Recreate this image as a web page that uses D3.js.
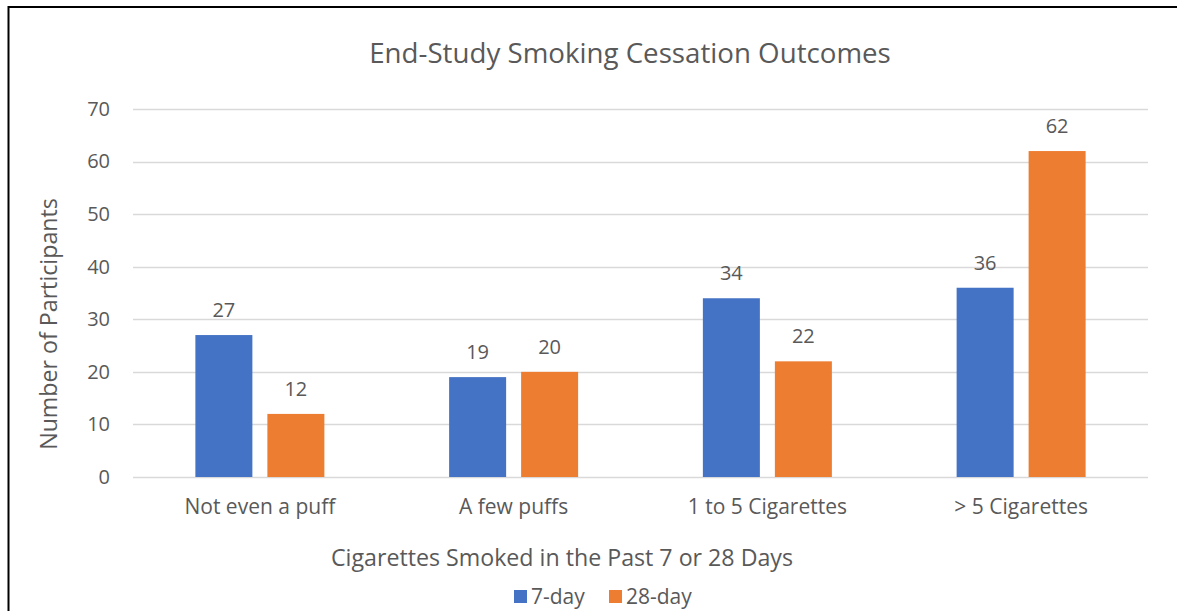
<!DOCTYPE html>
<html>
<head>
<meta charset="utf-8">
<script src="https://cdn.jsdelivr.net/npm/d3@7"></script>
<style>
  html, body { margin: 0; padding: 0; background: #fff; }
  svg { display: block; }
  text { font-family: "Open Sans", "Noto Sans", sans-serif; fill: #595959; }
</style>
</head>
<body>
<svg id="chart" width="1177" height="611"></svg>
<script>
// Chart data
const categories = ["Not even a puff", "A few puffs", "1 to 5 Cigarettes", "> 5 Cigarettes"];
const seriesNames = ["7-day", "28-day"];
const sevenDay = [27, 19, 34, 36];
const twentyEightDay = [12, 20, 22, 62];
const yTicks = [0, 10, 20, 30, 40, 50, 60, 70];
const colors = ["#4472C4", "#ED7D31"];

const seriesValues = [sevenDay, twentyEightDay];
const FONT = "'Open Sans', 'Noto Sans', sans-serif";

const svg = d3.select("#chart");
const W = 1177, H = 611;

// Outer frame of the figure
svg.append("path")
  .attr("d", `M8.5,${H} L8.5,7 L${W},7`)
  .attr("fill", "none")
  .attr("stroke", "#000")
  .attr("stroke-width", 2);

const plot = { left: 133, right: 1148, top: 109, bottom: 477 };

const y = d3.scaleLinear().domain([0, 70]).range([plot.bottom, plot.top]);
const x0 = d3.scaleBand().domain(categories).range([plot.left, plot.right]).padding(0);
const groupWidth = 129;
const x1 = d3.scaleBand().domain(seriesNames).range([0, groupWidth]).paddingInner(15 / 72);

// Gridlines
svg.append("g")
  .selectAll("line")
  .data(yTicks)
  .join("line")
  .attr("x1", plot.left).attr("x2", plot.right)
  .attr("y1", d => Math.round(y(d)) + 0.5).attr("y2", d => Math.round(y(d)) + 0.5)
  .attr("stroke", "#D9D9D9")
  .attr("stroke-width", 1.3);

// Y axis tick labels
const yAxis = d3.axisLeft(y).tickValues(yTicks).tickSize(0).tickPadding(0);
const yG = svg.append("g").attr("transform", `translate(110,0)`).call(yAxis);
yG.select(".domain").remove();
yG.selectAll("text")
  .attr("font-size", 20)
  .attr("fill", "#595959")
  .style("font-family", FONT);

// Bars
const groups = svg.append("g")
  .selectAll("g")
  .data(categories)
  .join("g")
  .attr("transform", c => `translate(${x0(c) + (x0.bandwidth() - groupWidth) / 2},0)`);

groups.selectAll("rect")
  .data((c, i) => seriesNames.map((s, j) => ({ s, v: seriesValues[j][i], j })))
  .join("rect")
  .attr("x", d => x1(d.s))
  .attr("width", x1.bandwidth())
  .attr("y", d => y(d.v))
  .attr("height", d => y(0) - y(d.v))
  .attr("fill", d => colors[d.j]);

// Value labels
groups.selectAll("text.val")
  .data((c, i) => seriesNames.map((s, j) => ({ s, v: seriesValues[j][i], j })))
  .join("text")
  .attr("class", "val")
  .attr("x", d => x1(d.s) + x1.bandwidth() / 2)
  .attr("y", d => y(d.v) - 18)
  .attr("text-anchor", "middle")
  .attr("font-size", 20)
  .attr("fill", "#404040")
  .text(d => d.v);

// Category labels
const xAxis = d3.axisBottom(x0).tickSize(0).tickPadding(0);
const xG = svg.append("g").attr("transform", `translate(0,${plot.bottom + 37})`).call(xAxis);
xG.select(".domain").remove();
xG.selectAll("text")
  .attr("font-size", 21)
  .attr("dy", 0)
  .attr("fill", "#595959")
  .style("font-family", FONT);

// Chart title
svg.append("text")
  .attr("x", 630).attr("y", 63)
  .attr("text-anchor", "middle")
  .attr("font-size", 27.7)
  .text("End-Study Smoking Cessation Outcomes");

// Axis titles
svg.append("text")
  .attr("transform", `translate(57,324) rotate(-90)`)
  .attr("text-anchor", "middle")
  .attr("font-size", 23.2)
  .text("Number of Participants");

svg.append("text")
  .attr("x", 562).attr("y", 566)
  .attr("text-anchor", "middle")
  .attr("font-size", 23.2)
  .text("Cigarettes Smoked in the Past 7 or 28 Days");

// Legend
const legendX = [514, 609];
const legend = svg.append("g")
  .selectAll("g")
  .data(seriesNames)
  .join("g")
  .attr("transform", (d, i) => `translate(${legendX[i]},590)`);
legend.append("rect")
  .attr("width", 13).attr("height", 13)
  .attr("fill", (d, i) => colors[i]);
legend.append("text")
  .attr("x", 17).attr("y", 14)
  .attr("font-size", 21)
  .text(d => d);
</script>
</body>
</html>
